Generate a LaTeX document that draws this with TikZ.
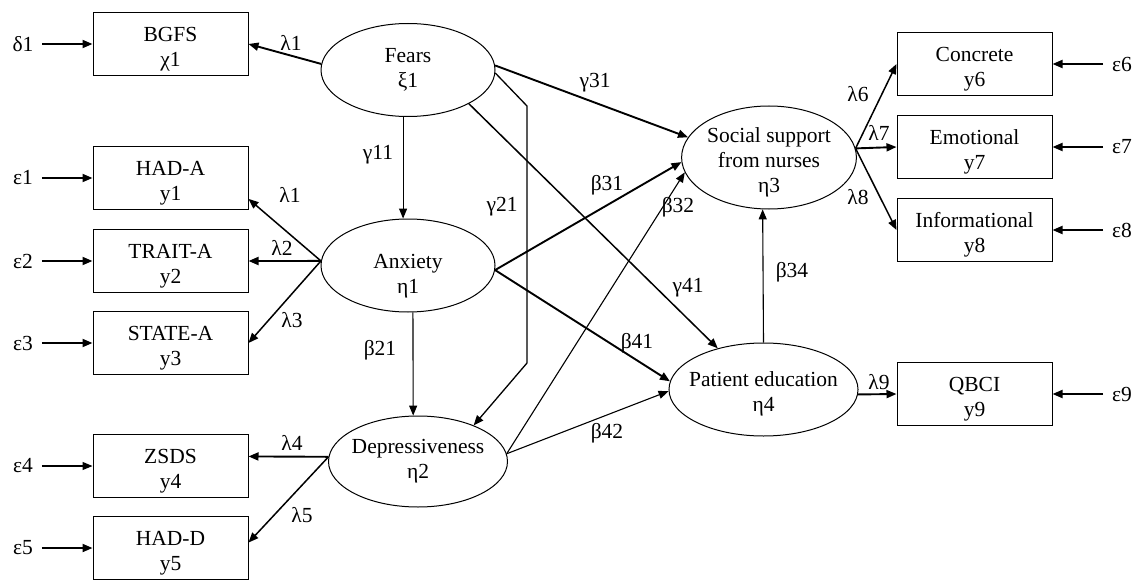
\documentclass[tikz,border=0pt]{standalone}
\usepackage{fontspec}
\setmainfont{Liberation Serif}
\usetikzlibrary{shapes.geometric,arrows.meta}
\newcommand{\lift}[1]{\rule{0pt}{#1}}
\begin{document}
\begin{tikzpicture}[x=1pt,y=-1pt,font=\fontsize{21.5}{25}\selectfont]
		\useasboundingbox (0,0) rectangle (1139,580);
		\tikzset{box/.style = {draw, line width=1pt, minimum width=155pt, minimum height=63pt, inner sep=0pt, align=center}}
		\tikzset{latent/.style = {draw, ellipse, line width=1pt, minimum width=174pt, minimum height=93pt, inner sep=0pt, align=center}}
		\tikzset{err/.style = {inner sep=0pt, outer sep=9pt}}
		\tikzset{edge/.style = {-{Triangle[length=10pt,width=8pt]}, line width=1.1pt}}
		
		% observed variables
		\node[box]  (bgfs) at (170.5, 44) {\lift{24pt}BGFS\\χ1};
		\node[box]  (hada) at (170.5,178) {\lift{24pt}HAD-A\\y1};
		\node[box] (trait) at (170.5,261) {\lift{24pt}TRAIT-A\\y2};
		\node[box] (state) at (170.5,343) {\lift{24pt}STATE-A\\y3};
		\node[box]  (zsds) at (170.5,466) {\lift{24pt}ZSDS\\y4};
		\node[box]  (hadd) at (170.5,548) {\lift{24pt}HAD-D\\y5};
		\node[box]  (conc) at (974.5, 64) {\lift{24pt}Concrete\\y6};
		\node[box]   (emo) at (974.5,147) {\lift{24pt}Emotional\\y7};
		\node[box]  (info) at (974.5,230) {\lift{24pt}Informational\\y8};
		\node[box]  (qbci) at (974.5,394) {\lift{24pt}QBCI\\y9};
		
		% latent variables
		\node[latent] (fears) at (408, 70.0) {Fears\\ξ1};
		\node[latent]   (anx) at (408,265.5) {\lift{36pt}Anxiety\\η1};
		\node[latent, minimum width=176pt, minimum height=91pt, inner xsep=-3pt] (dep) at (418,461.5) {Depressiveness\\η2};
		\node[latent, minimum height=103pt, inner ysep=-3.5pt] (soc) at (769,157.5) {\lift{25pt}Social support\\from nurses\\η3};
		\node[latent, minimum width=187pt, inner xsep=-7.5pt] (pat) at (763.5,389.5) {\lift{24pt}Patient education\\η4};
		
		% error terms
		\node[err] (d1) at (  23, 44) {δ1};
		\node[err] (e1) at (  23,178) {ε1};
		\node[err] (e2) at (  23,261) {ε2};
		\node[err] (e3) at (  23,343) {ε3};
		\node[err] (e4) at (  23,466) {ε4};
		\node[err] (e5) at (  23,548) {ε5};
		\node[err] (e6) at (1122, 64) {ε6};
		\node[err] (e7) at (1122,147) {ε7};
		\node[err] (e8) at (1122,230) {ε8};
		\node[err] (e9) at (1122,394) {ε9};
		
		% coefficients
		\node  (l1a) at (291, 43) {λ1};
		\node  (l1b) at (290,195) {λ1};
		\node   (l2) at (282,248) {λ2};
		\node   (l3) at (292,320) {λ3};
		\node   (l4) at (292,443) {λ4};
		\node   (l5) at (302,515) {λ5};
		\node   (l6) at (858, 94) {λ6};
		\node   (l7) at (879,133) {λ7};
		\node   (l8) at (858,197) {λ8};
		\node   (l9) at (879,382) {λ9};
		\node  (g11) at (378,155) {γ11};
		\node  (g21) at (502,207) {γ21};
		\node  (g31) at (595, 83) {γ31};
		\node  (g41) at (688,288) {γ41};
		\node  (b21) at (380,350) {β21};
		\node  (b31) at (607,185) {β31};
		\node  (b32) at (678,207) {β32};
		\node  (b34) at (792,272) {β34};
		\node  (b41) at (637,343) {β41};
		\node  (b42) at (607,433) {β42};
		
		\draw[edge] (e4) to (zsds);
		\draw[edge] (fears.264) to (anx.96);
		\draw[edge] (anx.-84) to (dep.96);
		\draw[edge] (pat.north) to (soc.263);
		\draw[edge] (dep.5) to (pat.181);
		\draw[edge] (dep.5) to (soc.190);
		\draw[edge, line width=1.3pt] (fears.-2) -- (527,106) -- (527,363) -- (dep.33);
		
		\tikzset{edge/.style = {-{Triangle[length=10pt,width=8pt]}, line width=1.5pt}}
		\draw[edge] (anx.177) to (hada.-15.5);
		\draw[edge] (anx.177) to (state.east);
		\draw[edge] (dep.177) to (hadd.4);
		\draw[edge] (soc.6) to (conc.west);
		\draw[edge] (soc.6) to (info.west);
		\draw[edge] (fears.-29) to (pat.138);
		
		\tikzset{edge/.style = {-{Triangle[length=10pt,width=8pt]}, line width=1.9pt}}
		\draw[edge] (d1) to (bgfs);
		\draw[edge] (e1) to (hada);
		\draw[edge] (e2) to (trait);
		\draw[edge] (e3) to (state);
		\draw[edge] (e5) to (hadd);
		\draw[edge] (e6) to (conc);
		\draw[edge] (e7) to (emo);
		\draw[edge] (e8) to (info);
		\draw[edge] (e9) to (qbci);
		\draw[edge] (fears.176) to (bgfs.east);
		\draw[edge] (anx.177) to (trait.east);
		\draw[edge] (dep.177) to (zsds.7);
		\draw[edge] (soc.6) to (emo.west);
		\draw[edge] (pat.-3) to (qbci.west);
		\draw[edge] (fears.3) to (soc.166);
		\draw[edge] (anx.-3) to (soc.183);
		\draw[edge] (anx.-3) to (pat.175);
\end{tikzpicture}
\end{document}
